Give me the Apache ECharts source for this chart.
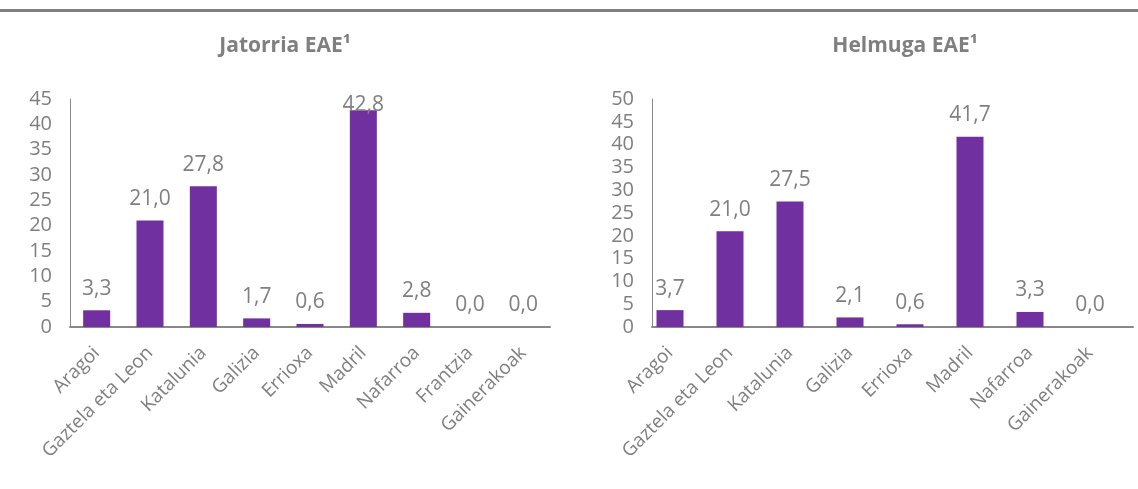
<!DOCTYPE html>
<html>
<head>
<meta charset="utf-8">
<script src="https://cdn.jsdelivr.net/npm/echarts@6/dist/echarts.min.js"></script>
<style>
html,body{margin:0;padding:0;background:#fff;}
#c{width:1138px;height:489px;}
</style>
</head>
<body>
<div id="c"></div>
<script>
// ---- data ----
const titleLeft = 'Jatorria EAE¹';
const titleRight = 'Helmuga EAE¹';
const catsLeft = ['Aragoi','Gaztela eta Leon','Katalunia','Galizia','Errioxa','Madril','Nafarroa','Frantzia','Gainerakoak'];
const valsLeft = [3.3, 21.0, 27.8, 1.7, 0.6, 42.8, 2.8, 0.0, 0.0];
const catsRight = ['Aragoi','Gaztela eta Leon','Katalunia','Galizia','Errioxa','Madril','Nafarroa','Gainerakoak'];
const valsRight = [3.7, 21.0, 27.5, 2.1, 0.6, 41.7, 3.3, 0.0];
const yLeft = {min: 0, max: 45, interval: 5};
const yRight = {min: 0, max: 50, interval: 5};

// ---- styles ----
const FONT = 'Open Sans';
const GRAY = '#7f7f7f';
const AXIS = '#898989';
const BAR = '#7030A0';

const chart = echarts.init(document.getElementById('c'), null, {renderer: 'canvas'});

function fmt(v){ return v.toFixed(1).replace('.', ','); }

function barSeries(vals, xi, yi, clampMax){
  return {
    type: 'bar', xAxisIndex: xi, yAxisIndex: yi,
    barWidth: 27,
    itemStyle: {color: BAR},
    data: vals.map(v => {
      const d = {value: v};
      if (clampMax !== undefined && v > clampMax) d.label = {distance: -5};
      return d;
    }),
    label: {
      show: true, position: 'top', distance: 11,
      color: GRAY, fontFamily: FONT, fontSize: 21,
      formatter: p => fmt(p.value)
    },
    silent: true, animation: false
  };
}

const catAxisLabel = {
  rotate: 45, color: GRAY, fontFamily: FONT, fontSize: 19, margin: 23, interval: 0
};
const valAxisLabel = {color: GRAY, fontFamily: FONT, fontSize: 20, margin: 18};
const titleFont = 'bold 21px "Open Sans"';

const option = {
  animation: false,
  graphic: [
    {type: 'rect', shape: {x: 0, y: 9, width: 1138, height: 3}, style: {fill: '#808080'}, silent: true},
    {type: 'text', x: 285, y: 46, silent: true,
     style: {text: titleLeft, font: titleFont, fill: GRAY, textAlign: 'center', textVerticalAlign: 'middle'}},
    {type: 'text', x: 905, y: 46, silent: true,
     style: {text: titleRight, font: titleFont, fill: GRAY, textAlign: 'center', textVerticalAlign: 'middle'}}
  ],
  grid: [
    {left: 70, top: 99, width: 480, height: 228},
    {left: 640, top: 99, width: 480, height: 228},
    {left: 652, top: 99, width: 481, height: 228}
  ],
  xAxis: [
    {type: 'category', gridIndex: 0, data: catsLeft,
     axisLine: {lineStyle: {color: AXIS, width: 2}}, axisTick: {show: false},
     axisLabel: catAxisLabel},
    {type: 'category', gridIndex: 1, data: catsRight,
     axisLine: {show: false}, axisTick: {show: false},
     axisLabel: catAxisLabel},
    {type: 'value', gridIndex: 2, min: 0, max: 1,
     axisLine: {show: true, onZero: false, lineStyle: {color: AXIS, width: 2}},
     axisTick: {show: false}, axisLabel: {show: false}, splitLine: {show: false}}
  ],
  yAxis: [
    {type: 'value', gridIndex: 0, min: yLeft.min, max: yLeft.max, interval: yLeft.interval,
     axisLine: {show: true, lineStyle: {color: AXIS, width: 1}}, axisTick: {show: false},
     splitLine: {show: false}, axisLabel: valAxisLabel},
    {type: 'value', gridIndex: 1, min: yRight.min, max: yRight.max, interval: yRight.interval,
     show: false},
    {type: 'value', gridIndex: 2, min: yRight.min, max: yRight.max, interval: yRight.interval,
     axisLine: {show: true, lineStyle: {color: AXIS, width: 1}}, axisTick: {show: false},
     splitLine: {show: false}, axisLabel: valAxisLabel}
  ],
  series: [
    barSeries(valsLeft, 0, 0, 40),
    barSeries(valsRight, 1, 1)
  ]
};
chart.setOption(option);
</script>
</body>
</html>
